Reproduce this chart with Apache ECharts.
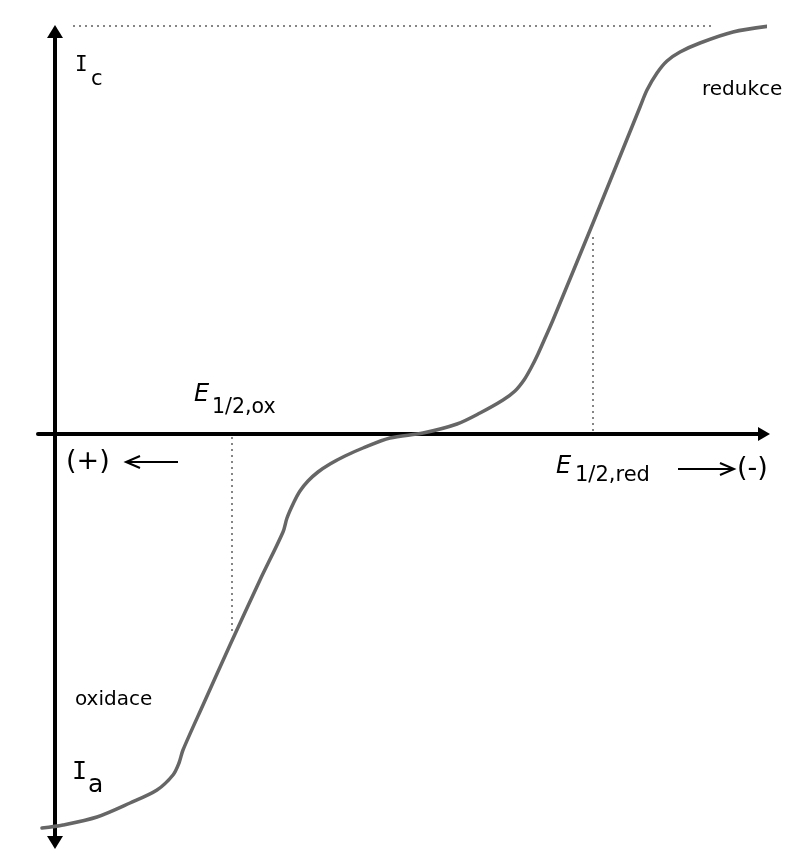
<!DOCTYPE html>
<html>
<head>
<meta charset="utf-8">
<script src="https://cdn.jsdelivr.net/npm/echarts@6/dist/echarts.min.js"></script>
<style>
html,body{margin:0;padding:0;background:#fff;}
#chart{width:809px;height:857px;}
</style>
</head>
<body>
<div id="chart"></div>
<script>
// Potential (x) and current (y), arbitrary units
var potential = [-13, 8, 42, 75, 102, 118, 124, 128, 148, 175, 205, 228, 232, 239, 245, 253, 263, 275, 290, 308, 335, 368, 402, 425, 448, 460, 469, 476, 483, 491, 498, 538, 585, 592, 602, 612, 625, 645, 678, 715];
var current   = [-394, -391, -383, -369, -356, -341, -329, -316, -271, -211, -146, -98, -84, -68, -57, -47, -38, -30, -22, -14, -4, 1, 10, 21, 34, 43, 54, 66, 80, 98, 114, 211, 327, 344, 361, 373, 382, 391, 402, 408];

// limiting current (dotted line) and half-wave potentials
var limitX = [18, 658];
var limitY = 408;
var eHalfOx = 177;
var eHalfOxCurrent = -200;
var eHalfRed = 538;
var eHalfRedCurrent = 197;

var curveData = potential.map(function (x, i) { return [x, current[i]]; });

var chart = echarts.init(document.getElementById('chart'), null, {renderer: 'canvas'});

var dotStyle = {color: '#858585', width: 2, type: [2, 4]};
var FONT = '"DejaVu Sans", Verdana, sans-serif';
var MONO = '"DejaVu Sans Mono", monospace';

function txt(text, x, y, size, extra) {
  var st = {
    text: text, x: 0, y: 0, fill: '#000',
    font: (extra && extra.style ? extra.style + ' ' : '') + size + 'px ' + ((extra && extra.family) || FONT),
    align: 'left', verticalAlign: 'middle', textAlign: 'left', textVerticalAlign: 'middle'
  };
  return {type: 'text', x: x, y: y, silent: true, style: st, z: 100};
}

var arrowStyle = {stroke: '#000', lineWidth: 2, fill: null};

var option = {
  backgroundColor: '#fff',
  animation: false,
  grid: {left: 38, right: 45, top: 31.5, bottom: 14.5, containLabel: false},
  xAxis: {
    type: 'value', min: -17, max: 709,
    axisLine: {onZero: true, symbol: ['none', 'triangle'], symbolSize: [14, 12], lineStyle: {color: '#000', width: 4}},
    axisTick: {show: false}, axisLabel: {show: false}, splitLine: {show: false}
  },
  yAxis: {
    type: 'value', min: -408.5, max: 402.5,
    axisLine: {show: true, onZero: true, symbol: ['triangle', 'triangle'], symbolSize: [16, 13], lineStyle: {color: '#000', width: 4}},
    axisTick: {show: false}, axisLabel: {show: false}, splitLine: {show: false}
  },
  series: [
    {
      type: 'line', data: [[limitX[0], limitY], [limitX[1], limitY]],
      showSymbol: false, clip: false, lineStyle: dotStyle, z: 1
    },
    {
      type: 'line', data: [[eHalfOx, -3], [eHalfOx, eHalfOxCurrent]],
      showSymbol: false, clip: false, lineStyle: dotStyle, z: 1
    },
    {
      type: 'line', data: [[eHalfRed, eHalfRedCurrent], [eHalfRed, 3]],
      showSymbol: false, clip: false, lineStyle: dotStyle, z: 1
    },
    {
      type: 'line', data: curveData, smooth: 0.3,
      showSymbol: false, clip: false,
      lineStyle: {color: '#666666', width: 3.5, cap: 'round', join: 'round'}, z: 3
    }
  ],
  graphic: [
    txt('I', 75, 65.5, 21, {family: MONO}),
    txt('c', 91, 80, 21),
    txt('I', 72, 772, 25, {family: MONO}),
    txt('a', 88, 785, 25),
    txt('redukce', 702, 90, 20),
    txt('oxidace', 75, 700, 20),
    txt('E', 194, 395, 24, {style: 'italic'}),
    txt('1/2,ox', 212, 408, 20.5),
    txt('E', 556, 467, 24, {style: 'italic'}),
    txt('1/2,red', 575, 476, 21),
    txt('(+)', 66, 462, 27),
    txt('(-)', 737, 469, 27),
    {type: 'polyline', silent: true, shape: {points: [[178, 462], [126, 462]]}, style: arrowStyle},
    {type: 'polyline', silent: true, shape: {points: [[140, 456], [126, 462], [140, 468]]}, style: arrowStyle},
    {type: 'polyline', silent: true, shape: {points: [[678, 469], [734, 469]]}, style: arrowStyle},
    {type: 'polyline', silent: true, shape: {points: [[720, 463], [734, 469], [720, 475]]}, style: arrowStyle}
  ]
};
chart.setOption(option);
</script>
</body>
</html>
